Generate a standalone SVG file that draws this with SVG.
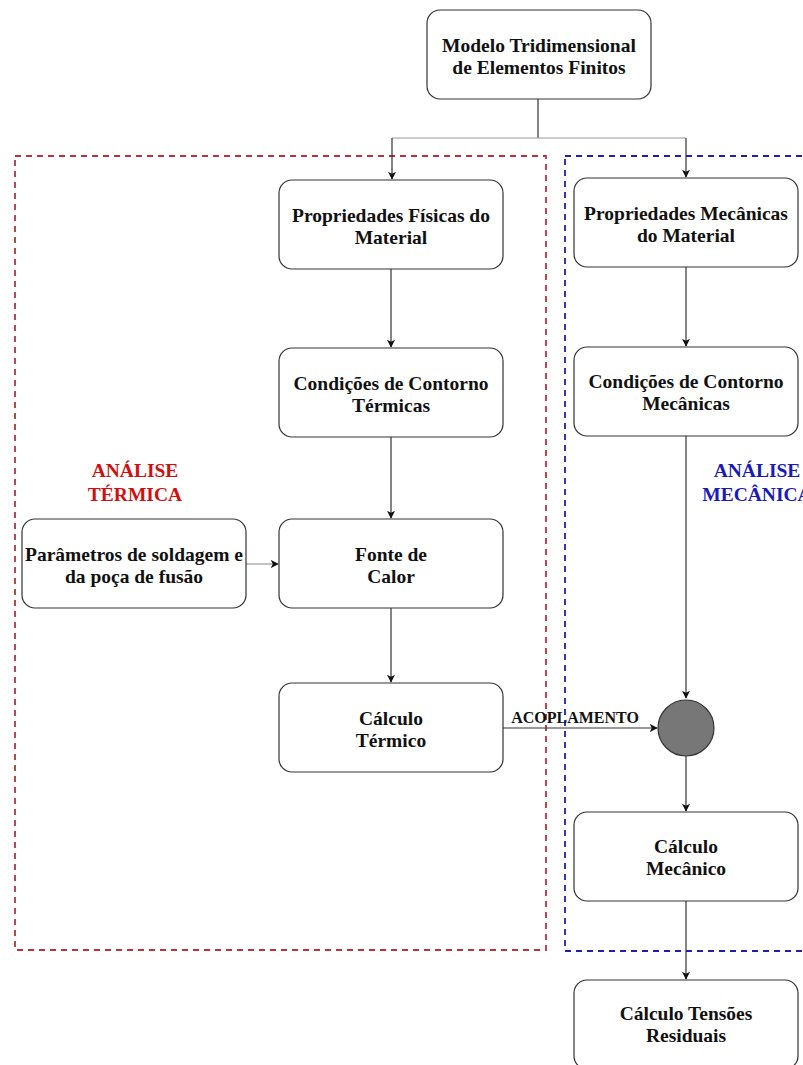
<svg xmlns="http://www.w3.org/2000/svg" width="803" height="1065" viewBox="0 0 803 1065">
<style>
.node rect{fill:#fff;stroke:#333;stroke-width:1.2}
text{font-family:"Liberation Serif","Times New Roman",serif;font-weight:bold;font-size:19.5px;text-anchor:middle;fill:#111}
.edge{fill:none;stroke:#333;stroke-width:1.2}
.light{stroke:#999}
.frame{fill:none;stroke-width:1.8;stroke-dasharray:6 5}
.red{fill:#d01010}
.blue{fill:#1a1ab8}
</style>
<defs>
<marker id="arr" viewBox="0 0 10 10" refX="9" refY="5" markerWidth="8" markerHeight="8" orient="auto" markerUnits="userSpaceOnUse">
<path d="M0,0 L10,5 L0,10 L2.5,5 z" fill="#111"/>
</marker>
</defs>
<rect width="803" height="1065" fill="#fff"/>
<g id="frames">
<rect class="frame" x="15" y="156" width="531" height="794" stroke="#c0303a"/>
<rect class="frame" x="565" y="156" width="260" height="795" stroke="#2020b0"/>
</g>
<g id="connectors">
<path class="edge" d="M538,99 V138"/>
<path class="edge light" d="M392,138 H686"/>
<path class="edge" d="M392,138 V179" marker-end="url(#arr)"/>
<path class="edge" d="M686,138 V177" marker-end="url(#arr)"/>
<path class="edge" d="M391,269 V347" marker-end="url(#arr)"/>
<path class="edge" d="M391,437 V518" marker-end="url(#arr)"/>
<path class="edge" d="M391,608 V682" marker-end="url(#arr)"/>
<path class="edge light" d="M246,564 H278" marker-end="url(#arr)"/>
<path class="edge" d="M686,267 V346" marker-end="url(#arr)"/>
<path class="edge" d="M686,436 V698" marker-end="url(#arr)"/>
<path class="edge" d="M503,728 H657" marker-end="url(#arr)"/>
<path class="edge" d="M686,756 V811" marker-end="url(#arr)"/>
<path class="edge" d="M686,901 V979" marker-end="url(#arr)"/>
<text x="575" y="723" style="font-size:16px">ACOPLAMENTO</text>
</g>
<g id="labels">
<text class="red" x="135" y="477">ANÁLISE</text>
<text class="red" x="135" y="501">TÉRMICA</text>
<text class="blue" x="757" y="477">ANÁLISE</text>
<text class="blue" x="757" y="501">MECÂNICA</text>
</g>
<g id="n-modelo" class="node">
<rect x="427" y="10" width="224" height="89" rx="13"/>
<text x="539" y="52">Modelo Tridimensional</text>
<text x="539" y="74">de Elementos Finitos</text>
</g>
<g id="n-propfis" class="node">
<rect x="279" y="180" width="224" height="89" rx="13"/>
<text x="391" y="222">Propriedades Físicas do</text>
<text x="391" y="244">Material</text>
</g>
<g id="n-condterm" class="node">
<rect x="279" y="348" width="224" height="89" rx="13"/>
<text x="391" y="390">Condições de Contorno</text>
<text x="391" y="412">Térmicas</text>
</g>
<g id="n-param" class="node">
<rect x="22" y="519" width="224" height="89" rx="13"/>
<text x="134" y="561">Parâmetros de soldagem e</text>
<text x="134" y="583">da poça de fusão</text>
</g>
<g id="n-fonte" class="node">
<rect x="279" y="519" width="224" height="89" rx="13"/>
<text x="391" y="561">Fonte de</text>
<text x="391" y="583">Calor</text>
</g>
<g id="n-calcterm" class="node">
<rect x="279" y="683" width="224" height="89" rx="13"/>
<text x="391" y="725">Cálculo</text>
<text x="391" y="747">Térmico</text>
</g>
<g id="n-propmec" class="node">
<rect x="574" y="178" width="224" height="89" rx="13"/>
<text x="686" y="220">Propriedades Mecânicas</text>
<text x="686" y="242">do Material</text>
</g>
<g id="n-condmec" class="node">
<rect x="574" y="347" width="224" height="89" rx="13"/>
<text x="686" y="388">Condições de Contorno</text>
<text x="686" y="410">Mecânicas</text>
</g>
<g id="n-junction">
<circle cx="686" cy="728" r="28" fill="#777" stroke="#333" stroke-width="1.2"/>
</g>
<g id="n-calcmec" class="node">
<rect x="574" y="812" width="224" height="89" rx="13"/>
<text x="686" y="853">Cálculo</text>
<text x="686" y="875">Mecânico</text>
</g>
<g id="n-tensoes" class="node">
<rect x="574" y="980" width="224" height="89" rx="13"/>
<text x="686" y="1020">Cálculo Tensões</text>
<text x="686" y="1042">Residuais</text>
</g>
</svg>
